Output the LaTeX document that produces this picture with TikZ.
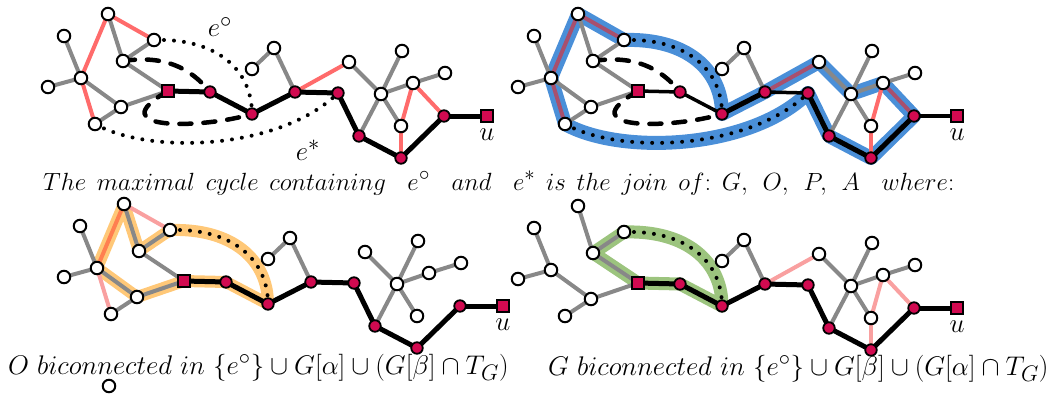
\documentclass[tikz,border=0pt]{standalone}
\usepackage{graphicx}
\usetikzlibrary{calc}
\definecolor{crim}{HTML}{D10A50}
\definecolor{egray}{HTML}{888888}
\definecolor{ered}{HTML}{FF6B6B}
\definecolor{epink}{HTML}{F9A0A0}
\definecolor{ecoral}{HTML}{FF7F50}
\definecolor{emauve}{HTML}{A8506E}
\definecolor{hblue}{HTML}{4A8FD8}
\definecolor{horange}{HTML}{FFC878}
\definecolor{hgreen}{HTML}{9CC47E}
\pgfdeclarelayer{hl}
\pgfdeclarelayer{bg}
\pgfsetlayers{hl,bg,main}
\newcommand{\txt}[1]{\scalebox{1.084}{#1}}
\newcommand{\sk}{\hspace{10.8pt}}
\tikzset{
  wn/.style={circle,draw=black,fill=white,line width=2pt,minimum size=12.5pt,inner sep=0pt},
  rn/.style={circle,draw=black,fill=crim,line width=1.8pt,minimum size=11.5pt,inner sep=0pt},
  sq/.style={rectangle,draw=black,fill=crim,line width=2pt,minimum size=12pt,inner sep=0pt},
  ge/.style={line width=4pt,draw=egray},
  re/.style={line width=4pt,draw=ered},
  pe/.style={line width=4pt,draw=epink},
  ce/.style={line width=4pt,draw=ecoral},
  me/.style={line width=4pt,draw=emauve},
  be/.style={line width=5pt,draw=black,line join=round},
  bt/.style={line width=3.5pt,draw=black},
  dotline/.style={line width=4pt,draw=black,line cap=round,dash pattern=on 0pt off 10pt},
  dashline/.style={line width=4.5pt,draw=black,line cap=round,dash pattern=on 12pt off 12pt},
  hlb/.style={line width=14pt,draw=hblue,line join=round,line cap=round},
  hlo/.style={line width=12pt,draw=horange,line join=round,line cap=round},
  hlg/.style={line width=13pt,draw=hgreen,line join=round,line cap=round},
  lbl/.style={font=\fontsize{24.88}{30}\selectfont,inner sep=0pt},
}
\newcommand{\graphnodes}[1]{%
  \node[wn] (#1A) at (108,14) {};
  \node[wn] (#1B) at (64,36) {};
  \node[wn] (#1C) at (154,40) {};
  \node[wn] (#1D) at (123,61) {};
  \node[wn] (#1E) at (81,78) {};
  \node[wn] (#1F) at (48,87) {};
  \node[sq] (#1G) at (168,91) {};
  \node[wn] (#1H) at (121,107) {};
  \node[wn] (#1I) at (95,124) {};
  \node[rn] (#1J) at (210,92) {};
  \node[rn] (#1K) at (252,114) {};
  \node[wn] (#1L) at (252,69) {};
  \node[wn] (#1M) at (274,48) {};
  \node[rn] (#1N) at (295,92) {};
  \node[wn] (#1O) at (349,62) {};
  \node[rn] (#1P) at (338,93) {};
  \node[rn] (#1Q) at (359,136) {};
  \node[wn] (#1R) at (381,94) {};
  \node[wn] (#1S) at (402,51) {};
  \node[wn] (#1T) at (413,83) {};
  \node[wn] (#1U) at (445,73) {};
  \node[wn] (#1V) at (401,126) {};
  \node[rn] (#1W) at (401,158) {};
  \node[rn] (#1X) at (444,116) {};
  \node[sq] (#1Y) at (487,116) {};
  \node[lbl] (#1u) at (487,135) {\txt{$u$}};
}
\newcommand{\edgeset}[3]{\foreach \s/\t in {#3}{\draw[#1] (#2\s.center) -- (#2\t.center);}}
\newcommand{\grayedges}[1]{\edgeset{ge}{#1}{A/D,D/C,B/E,F/E,E/H,D/G,H/G,I/H,L/M,M/N,O/R,Q/R,R/S,R/T,T/U,R/V}}
\newcommand{\eocurve}[1]{(#1C.center) .. controls ($(#1C)+(63,-2)$) and ($(#1K)+(0,-44)$) .. (#1K.center)}
\newcommand{\eorev}[1]{(#1K.center) .. controls ($(#1K)+(0,-44)$) and ($(#1C)+(63,-2)$) .. (#1C.center)}
\newcommand{\escurve}[1]{(#1I.center) .. controls ($(#1I)+(55,31)$) and ($(#1P)+(-58,57)$) .. (#1P.center)}
\begin{document}
\begin{tikzpicture}[x=1pt,y=-1pt]
\useasboundingbox (0,0) rectangle (1056,397);
% nodes of the four panels
\begin{scope}\graphnodes{a}\end{scope}
\begin{scope}[shift={(470,0)}]\graphnodes{b}\end{scope}
\begin{scope}[shift={(16,190)}]\graphnodes{c}\end{scope}
\begin{scope}[shift={(470,192)}]\graphnodes{d}\end{scope}
\node[wn] (stray) at (109,386) {};
% labels
\node[lbl] (eo) at (220,27) {\txt{$e^\circ$}};
\node[lbl] (es) at (308,150) {\txt{$e^*$}};
\node[lbl,anchor=base west] (cap) at (43,190) {$The\sk maximal\sk cycle\sk containing\sk\sk e^\circ\sk\sk and\sk\sk e^*\sk is\sk the\sk join\sk of{:}\sk G,\sk O,\sk P,\sk A\sk\sk where{:}$};
\node[lbl,anchor=base west] (capO) at (8,374) {\txt{$O\ biconnected\ in\ \{e^\circ\}\cup G[\alpha]\cup(G[\beta]\cap T_G)$}};
\node[lbl,anchor=base west] (capG) at (548,375) {\txt{$G\ biconnected\ in\ \{e^\circ\}\cup G[\beta]\cup(G[\alpha]\cap T_G)$}};
% highlights
\begin{pgfonlayer}{hl}
\draw[hlb] (bA.center) -- (bE.center) -- \escurve{b} -- (bQ.center) -- (bW.center) -- (bX.center) -- (bT.center) -- (bR.center) -- (bO.center) -- (bN.center) -- \eorev{b} -- cycle;
\draw[hlo] (cA.center) -- (cE.center) -- (cH.center) -- (cG.center) -- (cJ.center) -- \eorev{c} -- (cD.center) -- cycle;
\draw[hlg] (dD.center) -- (dG.center) -- (dJ.center) -- \eorev{d} -- cycle;
\end{pgfonlayer}
\begin{pgfonlayer}{bg}
% panel 1
\grayedges{a}
\edgeset{re}{a}{A/E,A/C,E/I,N/O,T/V,T/X,V/W}
\edgeset{be}{a}{G/J,J/K,K/N,N/P,P/Q,Q/W,W/X,X/Y}
\draw[dotline] \eocurve{a};
\draw[dotline] \escurve{a};
\draw[dashline] (aD.center) .. controls ($(aD)+(40,-6)$) and ($(aJ)+(-20,-25)$) .. (aJ.center);
\draw[dashline] (aG.center) .. controls ($(aG)+(-70,40)$) and ($(aK)+(-50,15)$) .. (aK.center);
% panel 2
\grayedges{b}
\edgeset{me}{b}{A/E,A/C,E/I,N/O,T/X}
\edgeset{re}{b}{T/V,V/W}
\edgeset{bt}{b}{G/J,J/K,N/P,X/Y}
\edgeset{be}{b}{K/N,P/Q,Q/W,W/X}
\draw[dotline] \eocurve{b};
\draw[dotline] \escurve{b};
\draw[dashline] (bD.center) .. controls ($(bD)+(40,-6)$) and ($(bJ)+(-20,-25)$) .. (bJ.center);
\draw[dashline] (bG.center) .. controls ($(bG)+(-70,40)$) and ($(bK)+(-50,15)$) .. (bK.center);
% panel 3
\grayedges{c}
\edgeset{ce}{c}{A/E}
\edgeset{pe}{c}{A/C,E/I}
\edgeset{be}{c}{G/J,J/K,K/N,N/P,P/Q,Q/W,W/X,X/Y}
\draw[dotline] \eocurve{c};
% panel 4
\grayedges{d}
\edgeset{pe}{d}{N/O,T/V,T/X,V/W}
\edgeset{be}{d}{G/J,J/K,K/N,N/P,P/Q,Q/W,W/X,X/Y}
\draw[dotline] \eocurve{d};
\end{pgfonlayer}
\end{tikzpicture}
\end{document}
